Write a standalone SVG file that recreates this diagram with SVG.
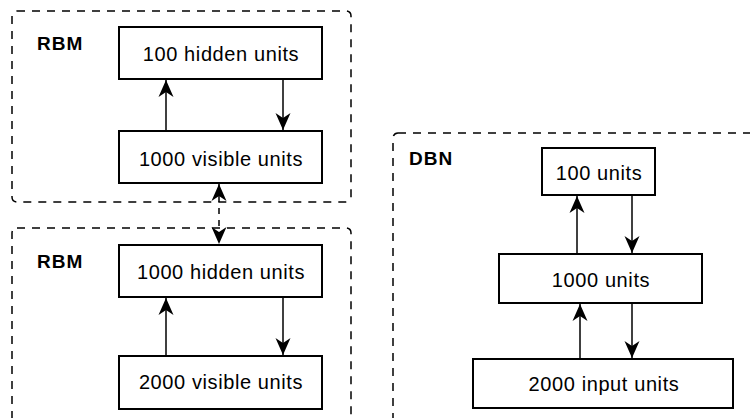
<svg xmlns="http://www.w3.org/2000/svg" width="750" height="418" viewBox="0 0 750 418">
<style>
.grp{fill:none;stroke:#000;stroke-width:1.5;stroke-dasharray:8,7}
.node{fill:#fff;stroke:#000;stroke-width:2}
.lbl{font-family:"Liberation Sans",Arial,sans-serif;font-size:20px;letter-spacing:0.6px;text-anchor:middle;fill:#000}
.ttl{font-family:"Liberation Sans",Arial,sans-serif;font-size:19px;font-weight:bold;letter-spacing:1px;fill:#000}
.edge{fill:none;stroke:#000;stroke-width:1.5;marker-end:url(#ah)}
.dedge{fill:none;stroke:#000;stroke-width:1.5;stroke-dasharray:6,6;marker-start:url(#ahs);marker-end:url(#ah)}
</style>
<defs>
<marker id="ah" viewBox="0 -8 17 16" refX="17" refY="0" markerWidth="17" markerHeight="16" markerUnits="userSpaceOnUse" orient="auto">
<path d="M0,-7.5 L17,0 L0,7.5 L5,0 Z" fill="#000"/>
</marker>
<marker id="ahs" viewBox="0 -8 17 16" refX="0" refY="0" markerWidth="17" markerHeight="16" markerUnits="userSpaceOnUse" orient="auto">
<path d="M0,0 L17,-7.5 L12,0 L17,7.5 Z" fill="#000"/>
</marker>
</defs>
<g id="rbm1">
<rect class="grp" x="12" y="11" width="339" height="191" rx="5"/>
<text class="ttl" x="37" y="50">RBM</text>
</g>
<g id="rbm2">
<rect class="grp" x="12" y="228" width="339" height="220" rx="5"/>
<text class="ttl" x="37" y="268">RBM</text>
</g>
<g id="dbn">
<rect class="grp" x="393" y="133" width="400" height="320" rx="5"/>
<text class="ttl" x="409" y="165">DBN</text>
</g>
<g id="connectors">
<line class="edge" x1="166" y1="131" x2="166" y2="80"/>
<line class="edge" x1="283" y1="79" x2="283" y2="130"/>
<line class="dedge" x1="219" y1="184" x2="219" y2="244"/>
<line class="edge" x1="166" y1="356" x2="166" y2="298"/>
<line class="edge" x1="283" y1="297" x2="283" y2="355"/>
<line class="edge" x1="577" y1="254" x2="577" y2="196"/>
<line class="edge" x1="632" y1="195" x2="632" y2="253"/>
<line class="edge" x1="580" y1="359" x2="580" y2="304"/>
<line class="edge" x1="632" y1="303" x2="632" y2="358"/>
</g>
<g id="n100h">
<rect class="node" x="119" y="27" width="203" height="52"/>
<text class="lbl" x="221" y="61">100 hidden units</text>
</g>
<g id="n1000v">
<rect class="node" x="119" y="131" width="203" height="52"/>
<text class="lbl" x="221" y="166">1000 visible units</text>
</g>
<g id="n1000h">
<rect class="node" x="119" y="245" width="203" height="52"/>
<text class="lbl" x="221" y="279">1000 hidden units</text>
</g>
<g id="n2000v">
<rect class="node" x="119" y="356" width="203" height="53"/>
<text class="lbl" x="221" y="389">2000 visible units</text>
</g>
<g id="d100">
<rect class="node" x="542" y="148" width="113" height="47"/>
<text class="lbl" x="599" y="180">100 units</text>
</g>
<g id="d1000">
<rect class="node" x="499" y="254" width="203" height="49"/>
<text class="lbl" x="601" y="287">1000 units</text>
</g>
<g id="d2000">
<rect class="node" x="473" y="359" width="260" height="49"/>
<text class="lbl" x="604" y="391">2000 input units</text>
</g>
</svg>
